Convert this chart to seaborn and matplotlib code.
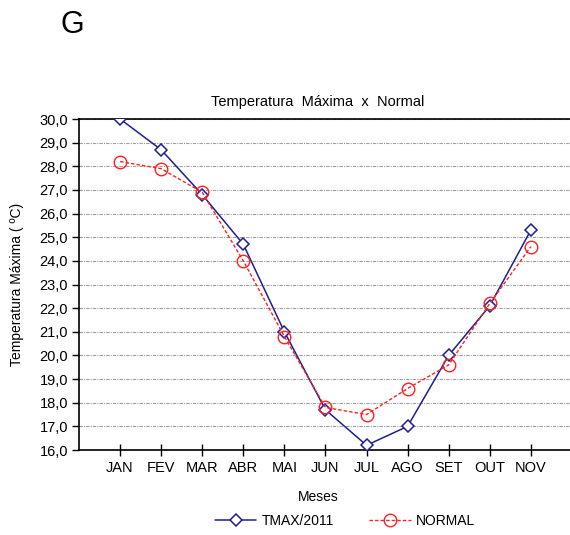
import pandas as pd
import matplotlib
matplotlib.use("Agg")
import matplotlib.pyplot as plt
import seaborn as sns

# Monthly data
meses = ["JAN", "FEV", "MAR", "ABR", "MAI", "JUN", "JUL", "AGO", "SET", "OUT", "NOV"]
tmax_2011 = [30.0, 28.7, 26.8, 24.7, 21.0, 17.7, 16.2, 17.0, 20.0, 22.1, 25.3]
normal = [28.2, 27.9, 26.9, 24.0, 20.8, 17.8, 17.5, 18.6, 19.6, 22.2, 24.6]
y_ticks = [16 + i for i in range(15)]

sns.set_theme(style="white")
plt.rcParams['font.family'] = ['Liberation Sans', 'DejaVu Sans']
plt.rcParams['text.color'] = 'black'
plt.rcParams['xtick.color'] = 'black'
plt.rcParams['ytick.color'] = 'black'
plt.rcParams['axes.labelcolor'] = 'black'

df = pd.DataFrame({
    'x': list(range(len(meses))) * 2,
    'Temperatura': tmax_2011 + normal,
    'Serie': ['TMAX/2011'] * len(meses) + ['NORMAL'] * len(meses),
})

fig = plt.figure(figsize=(5.7, 5.35), dpi=100)
ax = fig.add_axes([79 / 570, 1 - 450 / 535, 534 / 570, 331 / 535])

sns.lineplot(data=df[df['Serie'] == 'TMAX/2011'], x='x', y='Temperatura', ax=ax,
             color='#1f1f8f', linewidth=1.1, marker='D', markersize=6.5,
             markerfacecolor='white', markeredgecolor='#1f1f8f', markeredgewidth=1.1,
             label='TMAX/2011', zorder=3)
sns.lineplot(data=df[df['Serie'] == 'NORMAL'], x='x', y='Temperatura', ax=ax,
             color='#ff2020', linewidth=1.0, linestyle=(0, (2.5, 1.5)), marker='o',
             markersize=9, markerfacecolor='none', markeredgecolor='#ff2020',
             markeredgewidth=1.0, label='NORMAL', zorder=4)

ax.set_xlim(-1, 12)
ax.set_ylim(16, 30)
ax.set_yticks(y_ticks)
ax.set_yticklabels([f"{v:.1f}".replace('.', ',') for v in y_ticks], fontsize=10.5)
ax.set_xticks(range(len(meses)))
ax.set_xticklabels(meses, fontsize=10.5)

ax.yaxis.grid(True, color='#a0a0a0', linestyle=(0, (3, 1, 1, 1)), linewidth=0.8)
ax.xaxis.grid(False)
for side in ['left', 'bottom', 'top']:
    ax.spines[side].set_color('black')
    ax.spines[side].set_linewidth(1.2)
ax.spines['right'].set_visible(False)
ax.tick_params(axis='y', direction='out', length=5, width=1, pad=3, left=True)
ax.tick_params(axis='x', direction='inout', length=8, width=1, pad=4, bottom=True)

ax.set_xlabel('Meses', fontsize=10)
ax.xaxis.set_label_coords((318 - 79) / 534, -40 / 331)
ax.set_ylabel('Temperatura Máxima ( ºC)', fontsize=10)
ax.yaxis.set_label_coords(-(79 - 24) / 534, 0.5)

fig.text(318 / 570, 1 - 102 / 535, 'Temperatura  Máxima  x  Normal', fontsize=10.5,
         ha='center', va='center')
fig.text(72 / 570, 1 - 25 / 535, 'G', fontsize=22, ha='center', va='center')

ax.legend(loc='center', bbox_to_anchor=(345 / 570, 1 - 521 / 535),
          bbox_transform=fig.transFigure, ncol=2, frameon=False, fontsize=10,
          handlelength=3.0, columnspacing=2.5, handletextpad=0.4)

fig.savefig('out.png', dpi=100)
